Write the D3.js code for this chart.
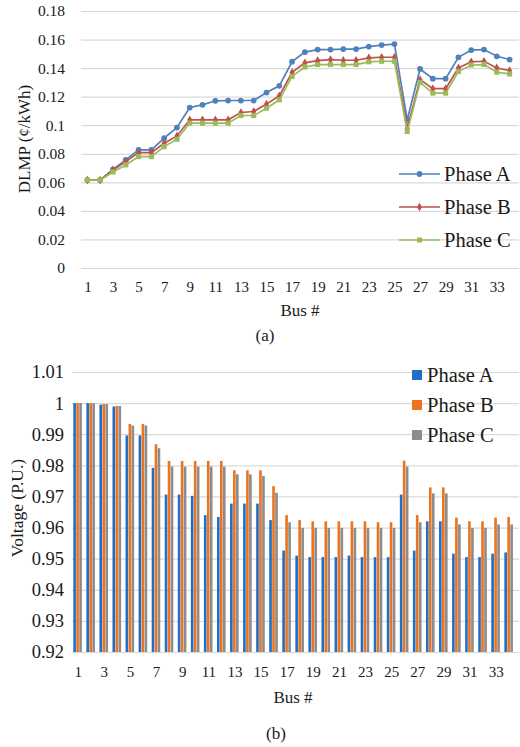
<!DOCTYPE html>
<html>
<head>
<meta charset="utf-8">
<script src="https://cdn.jsdelivr.net/npm/d3@7"></script>
<style>
  body { margin: 0; background: #fff; }
</style>
</head>
<body>
<div id="chart"></div>
<script>
const buses = d3.range(1, 35)
const phases = ['Phase A', 'Phase B', 'Phase C']

// (a) DLMP in cents/kWh
const dlmpA = [0.0616, 0.0616, 0.0691, 0.0757, 0.0827, 0.0827, 0.0909, 0.0984, 0.1124, 0.1143,
  0.1171, 0.1173, 0.1173, 0.1173, 0.1229, 0.1276, 0.1445, 0.1512, 0.1530, 0.1530,
  0.1533, 0.1533, 0.1551, 0.1561, 0.1568, 0.1038, 0.1394, 0.1326, 0.1326, 0.1476,
  0.1526, 0.1530, 0.1483, 0.1460]
const dlmpB = [0.0616, 0.0616, 0.0687, 0.0745, 0.0808, 0.0808, 0.0874, 0.0925, 0.1038, 0.1038,
  0.1038, 0.1038, 0.1089, 0.1096, 0.1148, 0.1206, 0.1370, 0.1437, 0.1453, 0.1460,
  0.1455, 0.1455, 0.1472, 0.1476, 0.1476, 0.0979, 0.1319, 0.1256, 0.1256, 0.1401,
  0.1444, 0.1448, 0.1401, 0.1383]
const dlmpC = [0.0616, 0.0616, 0.0673, 0.0722, 0.0780, 0.0780, 0.0850, 0.0902, 0.1014, 0.1014,
  0.1014, 0.1014, 0.1068, 0.1068, 0.1119, 0.1178, 0.1342, 0.1408, 0.1425, 0.1425,
  0.1425, 0.1425, 0.1444, 0.1448, 0.1448, 0.0956, 0.1300, 0.1225, 0.1225, 0.1376,
  0.1422, 0.1425, 0.1371, 0.1359]
const dlmpTicks = [0, 0.02, 0.04, 0.06, 0.08, 0.1, 0.12, 0.14, 0.16, 0.18]

// (b) voltage in p.u.
const voltA = [1.0, 1.0, 0.9995, 0.9989, 0.9896, 0.9896, 0.9792, 0.9706, 0.9706, 0.9702,
  0.9640, 0.9634, 0.9677, 0.9677, 0.9677, 0.9624, 0.9526, 0.9510, 0.9505, 0.9505,
  0.9505, 0.9510, 0.9505, 0.9505, 0.9505, 0.9706, 0.9526, 0.9620, 0.9620, 0.9516,
  0.9505, 0.9505, 0.9516, 0.9520]
const voltB = [1.0, 1.0, 0.9997, 0.9991, 0.9933, 0.9933, 0.9868, 0.9814, 0.9814, 0.9814,
  0.9814, 0.9814, 0.9784, 0.9784, 0.9784, 0.9733, 0.9640, 0.9624, 0.9620, 0.9620,
  0.9620, 0.9620, 0.9620, 0.9617, 0.9617, 0.9815, 0.9640, 0.9729, 0.9729, 0.9632,
  0.9620, 0.9620, 0.9632, 0.9634]
const voltC = [1.0, 1.0, 0.9997, 0.9991, 0.9928, 0.9928, 0.9855, 0.9796, 0.9796, 0.9796,
  0.9796, 0.9796, 0.9771, 0.9771, 0.9766, 0.9712, 0.9617, 0.9599, 0.9599, 0.9599,
  0.9599, 0.9599, 0.9599, 0.9599, 0.9599, 0.9796, 0.9617, 0.9710, 0.9710, 0.9610,
  0.9599, 0.9599, 0.9610, 0.9610]
const voltTicks = [0.92, 0.93, 0.94, 0.95, 0.96, 0.97, 0.98, 0.99, 1, 1.01]

const oddBuses = buses.filter(d => d % 2 === 1)
const fmt = d => String(+d.toFixed(2))
const serif = "'Liberation Serif', 'Times New Roman', serif"

const svg = d3.select('#chart')
  .append('svg')
  .attr('width', 520)
  .attr('height', 747)

svg.append('rect').attr('width', 520).attr('height', 747).attr('fill', '#fff')

// small helper for the plain labels
function label(x, y, txt, size, rotate) {
  svg.append('text')
    .attr('transform', 'translate(' + x + ',' + y + ')' + (rotate ? ' rotate(-90)' : ''))
    .attr('dy', '0.35em')
    .attr('text-anchor', 'middle')
    .attr('font-size', size)
    .attr('fill', '#1a1a1a')
    .style('font-family', serif)
    .text(txt)
}

function styleTicks(g, size) {
  g.select('.domain').remove()
  g.selectAll('text').attr('font-size', size).attr('fill', '#1a1a1a').style('font-family', serif)
}

// ---------- chart (a) ----------
const lineColors = ['#4F81BD', '#C0504D', '#9BBB59']
const xA = d3.scalePoint().domain(buses).range([81, 516]).padding(0.5)
const yA = d3.scaleLinear().domain([0, 0.18]).range([268, 11])

svg.append('g')
  .attr('transform', 'translate(81,0)')
  .call(d3.axisLeft(yA).tickValues(dlmpTicks).tickSize(-438).tickFormat(''))
  .call(g => g.select('.domain').remove())
  .call(g => g.selectAll('line').attr('stroke', '#d9d9d9').attr('stroke-width', 1.2))

svg.append('g')
  .attr('transform', 'translate(81,0)')
  .call(d3.axisLeft(yA).tickValues(dlmpTicks).tickSize(0).tickPadding(16).tickFormat(fmt))
  .call(g => styleTicks(g, 15.5))

svg.append('g')
  .attr('transform', 'translate(0,268)')
  .call(d3.axisBottom(xA).tickValues(oddBuses).tickSize(0).tickPadding(13))
  .call(g => styleTicks(g, 15))

const seriesA = [dlmpA, dlmpB, dlmpC]
const line = d3.line().x((d, i) => xA(buses[i])).y(d => yA(d))
const markerShapes = [d3.symbolCircle, d3.symbolDiamond, d3.symbolSquare]
const markerSizes = [26, 22, 26]

seriesA.forEach((vals, s) => {
  svg.append('path')
    .datum(vals)
    .attr('fill', 'none')
    .attr('stroke', lineColors[s])
    .attr('stroke-width', 1.7)
    .attr('d', line)
  svg.append('g')
    .selectAll('path')
    .data(vals)
    .enter()
    .append('path')
    .attr('d', d3.symbol().type(markerShapes[s]).size(markerSizes[s]))
    .attr('transform', (d, i) => 'translate(' + xA(buses[i]) + ',' + yA(d) + ')')
    .attr('fill', lineColors[s])
})

// legend (a)
phases.forEach((p, s) => {
  const y = 174 + s * 33
  svg.append('line').attr('x1', 399).attr('x2', 440).attr('y1', y).attr('y2', y)
    .attr('stroke', lineColors[s]).attr('stroke-width', 1.7)
  svg.append('path')
    .attr('d', d3.symbol().type(markerShapes[s]).size(markerSizes[s]))
    .attr('transform', 'translate(419.5,' + y + ')')
    .attr('fill', lineColors[s])
  svg.append('text').attr('x', 444).attr('y', y).attr('dy', '0.35em')
    .attr('font-size', 20.5).attr('fill', '#1a1a1a').style('font-family', serif).text(p)
})

label(24, 139, 'DLMP (¢/kWh)', 17, true)
label(300, 310, 'Bus #', 17)
label(265, 335, '(a)', 17)

// ---------- chart (b) ----------
const barColors = ['#1F6FC6', '#EC7320', '#8C8C8C']
const xB = d3.scaleBand().domain(buses).range([71.7, 515.8])
const xInner = d3.scaleBand().domain(phases).range([1.6, 10.2]).paddingInner(0.12)
const yB = d3.scaleLinear().domain([0.92, 1.01]).range([652, 372])

svg.append('g')
  .attr('transform', 'translate(72,0)')
  .call(d3.axisLeft(yB).tickValues(voltTicks).tickSize(-447).tickFormat(''))
  .call(g => g.select('.domain').remove())
  .call(g => g.selectAll('line').attr('stroke', '#d9d9d9').attr('stroke-width', 1.2))

svg.append('g')
  .attr('transform', 'translate(72,0)')
  .call(d3.axisLeft(yB).tickValues(voltTicks).tickSize(0).tickPadding(8).tickFormat(fmt))
  .call(g => styleTicks(g, 18.5))

svg.append('g')
  .attr('transform', 'translate(0,652)')
  .call(d3.axisBottom(xB).tickValues(oddBuses).tickSize(0).tickPadding(14))
  .call(g => styleTicks(g, 15))

const seriesB = [voltA, voltB, voltC]
seriesB.forEach((vals, s) => {
  svg.append('g')
    .selectAll('rect')
    .data(vals)
    .enter()
    .append('rect')
    .attr('x', (d, i) => xB(buses[i]) + xInner(phases[s]))
    .attr('width', xInner.bandwidth())
    .attr('y', d => yB(d))
    .attr('height', d => yB(0.92) - yB(d))
    .attr('fill', barColors[s])
})

phases.forEach((p, s) => {
  const y = 375 + s * 30
  svg.append('rect').attr('x', 412).attr('y', y - 5).attr('width', 10).attr('height', 10)
    .attr('fill', barColors[s])
  svg.append('text').attr('x', 427).attr('y', y).attr('dy', '0.35em')
    .attr('font-size', 20.5).attr('fill', '#1a1a1a').style('font-family', serif).text(p)
})

label(17, 508, 'Voltage (P.U.)', 17.5, true)
label(293, 697, 'Bus #', 17)
label(276, 733, '(b)', 17)
</script>
</body>
</html>
